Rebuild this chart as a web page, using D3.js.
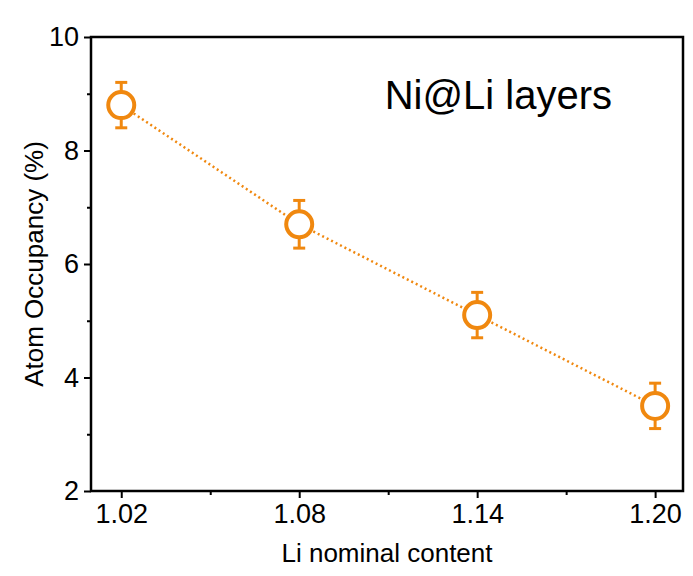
<!DOCTYPE html><html><head><meta charset="utf-8"><script src="https://cdn.jsdelivr.net/npm/d3@7"></script>
<style>body{margin:0;background:#fff}</style></head><body><svg id="c" width="693" height="576"></svg>
<script>
const xValues=[1.02,1.08,1.14,1.20];
const yValues=[8.8,6.7,5.1,3.5];
const yErrors=[0.4,0.42,0.4,0.4];
const xTicks=[1.02,1.08,1.14,1.20];
const xMinor=[1.05,1.11,1.17];
const yTicks=[2,4,6,8,10];
const yMinor=[3,5,7,9];
const col="#f0880f";
const svg=d3.select("#c");
const L=91,R=683,T=37,B=491;
const x=d3.scaleLinear().domain([1.0098,1.2094]).range([L,R]);
const y=d3.scaleLinear().domain([2,10]).range([B,T]);
const f="Liberation Sans, Arial, sans-serif";
svg.append("rect").attr("x",L).attr("y",T).attr("width",R-L).attr("height",B-T).attr("fill","none").attr("stroke","#000").attr("stroke-width",2.5);
const gx=svg.append("g").attr("transform",`translate(0,${B})`).call(d3.axisBottom(x).tickValues(xTicks).tickFormat(d3.format(".2f")).tickSize(7).tickPadding(6));
const gy=svg.append("g").attr("transform",`translate(${L},0)`).call(d3.axisLeft(y).tickValues(yTicks).tickSize(7).tickPadding(5));
[gx,gy].forEach(g=>{g.select(".domain").remove();g.selectAll("line").attr("stroke-width",2);g.selectAll("text").attr("font-family",f).attr("font-size",27).attr("fill","#000");});
svg.append("g").attr("transform",`translate(0,${B})`).call(d3.axisBottom(x).tickValues(xMinor).tickSize(4).tickFormat("")).call(g=>{g.select(".domain").remove();g.selectAll("line").attr("stroke-width",2);});
svg.append("g").attr("transform",`translate(${L},0)`).call(d3.axisLeft(y).tickValues(yMinor).tickSize(4).tickFormat("")).call(g=>{g.select(".domain").remove();g.selectAll("line").attr("stroke-width",2);});
const pts=xValues.map((v,i)=>({x:v,y:yValues[i],e:yErrors[i]}));
svg.append("path").datum(pts).attr("d",d3.line().x(d=>x(d.x)).y(d=>y(d.y))).attr("fill","none").attr("stroke",col).attr("stroke-width",2.5).attr("stroke-dasharray","2,3");
const g=svg.append("g").attr("stroke",col).attr("stroke-width",3);
pts.forEach(d=>{
 const cx=x(d.x);
 g.append("line").attr("x1",cx).attr("x2",cx).attr("y1",y(d.y+d.e)).attr("y2",y(d.y-d.e));
 [d.y+d.e,d.y-d.e].forEach(v=>g.append("line").attr("x1",cx-6).attr("x2",cx+6).attr("y1",y(v)).attr("y2",y(v)));
 g.append("circle").attr("cx",cx).attr("cy",y(d.y)).attr("r",13).attr("fill","#fff").attr("stroke-width",4);
});
svg.append("text").attr("x",(L+R)/2).attr("y",562).attr("text-anchor","middle").attr("font-family",f).attr("font-size",26).text("Li nominal content");
svg.append("text").attr("transform",`translate(43,${(T+B)/2}) rotate(-90)`).attr("text-anchor","middle").attr("font-family",f).attr("font-size",26).text("Atom Occupancy (%)");
svg.append("text").attr("x",612).attr("y",109).attr("text-anchor","end").attr("font-family",f).attr("font-size",40).text("Ni@Li layers");
</script></body></html>
